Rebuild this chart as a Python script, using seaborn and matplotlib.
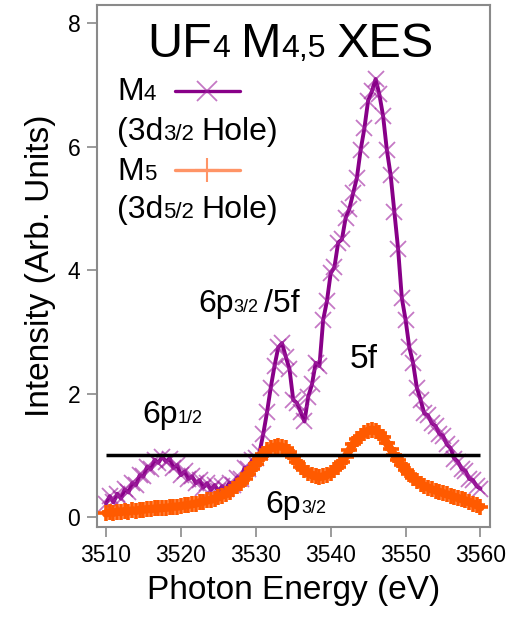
import numpy as np
import pandas as pd
import matplotlib
matplotlib.use("Agg")
import matplotlib.pyplot as plt
from matplotlib.lines import Line2D
import seaborn as sns

# ---------------- data ----------------
energy = np.arange(3510.0, 3560.01, 0.5)

m4 = [0.22, 0.34, 0.24, 0.38, 0.30, 0.45, 0.40, 0.55, 0.52, 0.68,
      0.66, 0.82, 0.78, 0.93, 0.88, 0.98, 0.90, 0.95, 0.80, 0.84,
      0.68, 0.74, 0.62, 0.66, 0.55, 0.60, 0.48, 0.55, 0.44, 0.52,
      0.42, 0.50, 0.46, 0.56, 0.52, 0.64, 0.62, 0.80, 0.78, 0.92,
      0.96, 1.05, 1.35, 1.70, 2.10, 2.45, 2.75, 2.82, 2.60, 2.40,
      1.90, 1.85, 1.70, 1.55, 1.95, 2.15, 2.50, 2.45, 3.20, 3.50,
      3.95, 4.05, 4.45, 4.50, 4.85, 5.00, 5.25, 5.50, 5.95, 6.30,
      6.75, 6.90, 7.10, 6.85, 6.50, 5.95, 5.55, 4.95, 4.35, 3.55,
      3.20, 2.75, 2.50, 2.10, 1.90, 1.68, 1.65, 1.52, 1.48, 1.35,
      1.32, 1.18, 1.12, 0.95, 0.90, 0.78, 0.75, 0.62, 0.60, 0.50,
      0.46]

m5 = [0.06, 0.08, 0.07, 0.09, 0.08, 0.10, 0.09, 0.11, 0.10, 0.12,
      0.12, 0.13, 0.13, 0.14, 0.14, 0.15,
      0.15, 0.16, 0.17, 0.17,
      0.18, 0.19, 0.20, 0.21, 0.22, 0.24,
      0.25, 0.27, 0.28, 0.30, 0.32, 0.35,
      0.38, 0.41, 0.45, 0.50, 0.55, 0.62,
      0.70, 0.78, 0.86, 0.95,
      1.02, 1.08, 1.12, 1.14,
      1.15, 1.14,
      1.12, 1.05, 0.98, 0.90,
      0.82, 0.76, 0.71, 0.68,
      0.66, 0.65, 0.66, 0.68,
      0.72, 0.76, 0.82, 0.90,
      0.98, 1.08, 1.18, 1.26,
      1.32, 1.37, 1.40, 1.42,
      1.40, 1.36, 1.30, 1.20,
      1.10, 1.00, 0.92, 0.84,
      0.76, 0.70, 0.64, 0.58,
      0.54, 0.50, 0.48, 0.45,
      0.43, 0.41, 0.39, 0.37,
      0.35, 0.33, 0.31, 0.29,
      0.27, 0.25, 0.22, 0.20,
      0.16]

ref_level = 1.0
ref_start, ref_end = 3510, 3560

x_ticks = [3510, 3520, 3530, 3540, 3550, 3560]
y_ticks = [0, 2, 4, 6, 8]

assert len(m4) == len(energy) and len(m5) == len(energy)

# ---------------- style ----------------
sns.set_theme(style="ticks")
plt.rcParams["font.family"] = ["Liberation Sans", "DejaVu Sans"]
plt.rcParams["text.color"] = "black"
plt.rcParams["axes.labelcolor"] = "black"

PURPLE = "#880088"
PURPLE_MK = (0.62, 0.12, 0.62, 0.6)
ORANGE = "#FF5A00"
ORANGE_LEG = "#FF9466"
GRAY = "#8a8a8a"

fig = plt.figure(figsize=(5.16, 6.20), dpi=100)
ax = fig.add_axes([0.188, 0.150, 0.762, 0.842])

df = pd.DataFrame({"energy": energy, "M4": m4, "M5": m5})

sns.lineplot(data=df, x="energy", y="M4", ax=ax, color=PURPLE, lw=2.8,
             marker="x", markersize=12, markeredgewidth=1.3,
             markeredgecolor=PURPLE_MK, zorder=2)
sns.lineplot(data=df, x="energy", y="M5", ax=ax, color=ORANGE, lw=6,
             marker="+", markersize=12, markeredgewidth=2.6,
             markeredgecolor=ORANGE, zorder=3)
ax.hlines(ref_level, ref_start, ref_end, color="black", lw=2.5, zorder=4)

ax.set_xlim(3508.8, 3561.3)
ax.set_ylim(-0.16, 8.30)
ax.set_xticks(x_ticks)
ax.set_yticks(y_ticks)
ax.tick_params(axis="both", direction="out", length=7, width=1.2,
               color=GRAY, labelsize=16.5, labelcolor="black", pad=5)
for s in ax.spines.values():
    s.set_visible(True)
    s.set_color(GRAY)
    s.set_linewidth(1.5)

ax.set_xlabel("Photon Energy (eV)", fontsize=24, labelpad=6, color="black")
ax.set_ylabel("Intensity (Arb. Units)", fontsize=24, labelpad=8, color="black")

renderer = fig.canvas.get_renderer()


def rich(x, y, pieces, coords="data"):
    """Draw text pieces on one baseline; pieces = (text, size, gap_pts)."""
    dx = 0.0
    for s, size, gap in pieces:
        t = ax.annotate(s, (x, y), xycoords=coords, xytext=(dx, 0),
                        textcoords="offset points", fontsize=size,
                        ha="left", va="baseline", color="black", zorder=6)
        bb = t.get_window_extent(renderer)
        dx += bb.width * 72.0 / fig.dpi + gap


# title
rich(3515.5, 7.46, [("UF", 35, 0), ("4", 23, 8), ("M", 35, 0),
                    ("4,5", 23, 8), ("XES", 35, 0)])

# legend (manual)
rich(3511.5, 6.76, [("M", 23, 0), ("4", 16, 0)])
rich(3511.5, 6.11, [("(3d", 23, 0), ("3/2", 16, 5), ("Hole)", 23, 0)])
rich(3511.5, 5.46, [("M", 23, 0), ("5", 16, 0)])
rich(3511.5, 4.85, [("(3d", 23, 0), ("5/2", 16, 5), ("Hole)", 23, 0)])

leg4 = Line2D([3519.2, 3523.5, 3527.9], [6.90, 6.90, 6.90], color=PURPLE,
              lw=2.4, marker="x", markersize=15, markeredgewidth=1.3,
              markeredgecolor=PURPLE_MK, markevery=[1], zorder=6)
leg5 = Line2D([3519.2, 3523.5, 3527.9], [5.62, 5.62, 5.62], color=ORANGE_LEG,
              lw=2.4, marker="+", markersize=17, markeredgewidth=1.5,
              markevery=[1], zorder=6)
ax.add_line(leg4)
ax.add_line(leg5)

# peak annotations
rich(3522.3, 3.32, [("6p", 23, 0), ("3/2", 13, 4), ("/5f", 23, 0)])
rich(3542.6, 2.41, [("5f", 24, 0)])
rich(3514.8, 1.52, [("6p", 23, 0), ("1/2", 13, 0)])
rich(3531.3, 0.065, [("6p", 23, 0), ("3/2", 13, 0)])

fig.savefig("out.png", dpi=100)
